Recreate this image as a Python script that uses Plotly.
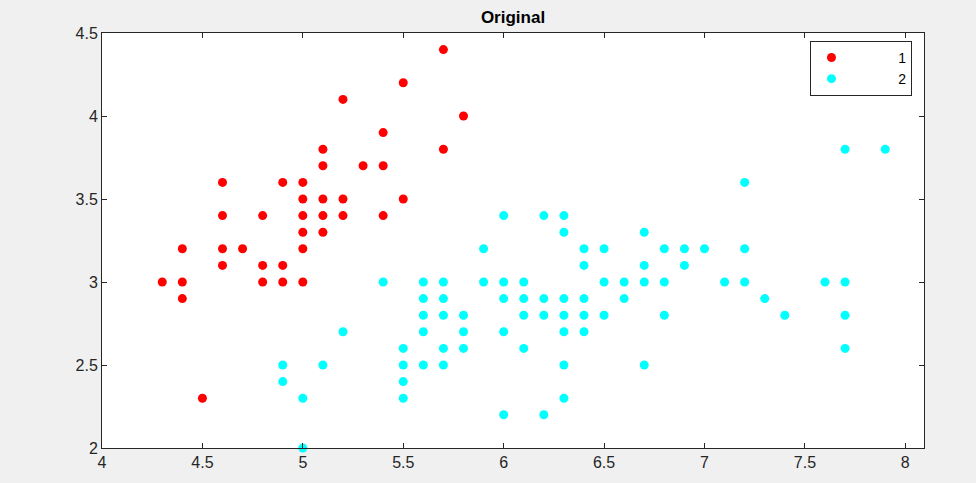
import plotly.graph_objects as go

# Cluster 1 (red)
c1_x = [5.7, 5.5, 5.2, 5.8, 5.4, 5.1, 5.7, 5.1, 5.3, 5.4, 4.6, 4.9, 5.0,
        5.0, 5.1, 5.2, 5.5, 4.6, 4.8, 5.0, 5.1, 5.2, 5.4, 5.0, 5.1,
        4.4, 4.6, 4.7, 5.0, 4.6, 4.8, 4.9, 4.3, 4.4, 4.8, 4.9, 5.0, 4.4, 4.5]
c1_y = [4.4, 4.2, 4.1, 4.0, 3.9, 3.8, 3.8, 3.7, 3.7, 3.7, 3.6, 3.6, 3.6,
        3.5, 3.5, 3.5, 3.5, 3.4, 3.4, 3.4, 3.4, 3.4, 3.4, 3.3, 3.3,
        3.2, 3.2, 3.2, 3.2, 3.1, 3.1, 3.1, 3.0, 3.0, 3.0, 3.0, 3.0, 2.9, 2.3]

# Cluster 2 (cyan)
c2_x = [7.7, 7.9, 7.2,
        6.0, 6.2, 6.3,
        6.3, 6.7,
        5.9, 6.4, 6.5, 6.8, 6.9, 7.0, 7.2,
        6.4, 6.7, 6.9,
        5.4, 5.6, 5.7, 5.9, 6.0, 6.1, 6.5, 6.6, 6.7, 6.8, 7.1, 7.2, 7.6, 7.7,
        5.6, 5.7, 6.0, 6.1, 6.2, 6.3, 6.4, 6.6, 7.3,
        5.6, 5.7, 5.8, 6.1, 6.2, 6.3, 6.4, 6.5, 6.8, 7.4, 7.7,
        5.2, 5.6, 5.8, 6.0, 6.3, 6.4,
        5.5, 5.7, 5.8, 6.1, 7.7,
        4.9, 5.1, 5.5, 5.6, 5.7, 6.3, 6.7,
        4.9, 5.5,
        5.0, 5.5, 6.3,
        6.0, 6.2,
        5.0]
c2_y = [3.8, 3.8, 3.6,
        3.4, 3.4, 3.4,
        3.3, 3.3,
        3.2, 3.2, 3.2, 3.2, 3.2, 3.2, 3.2,
        3.1, 3.1, 3.1,
        3.0, 3.0, 3.0, 3.0, 3.0, 3.0, 3.0, 3.0, 3.0, 3.0, 3.0, 3.0, 3.0, 3.0,
        2.9, 2.9, 2.9, 2.9, 2.9, 2.9, 2.9, 2.9, 2.9,
        2.8, 2.8, 2.8, 2.8, 2.8, 2.8, 2.8, 2.8, 2.8, 2.8, 2.8,
        2.7, 2.7, 2.7, 2.7, 2.7, 2.7,
        2.6, 2.6, 2.6, 2.6, 2.6,
        2.5, 2.5, 2.5, 2.5, 2.5, 2.5, 2.5,
        2.4, 2.4,
        2.3, 2.3, 2.3,
        2.2, 2.2,
        2.0]

x_ticks = [4, 4.5, 5, 5.5, 6, 6.5, 7, 7.5, 8]
x_tick_labels = ["4", "4.5", "5", "5.5", "6", "6.5", "7", "7.5", "8"]
y_ticks = [2, 2.5, 3, 3.5, 4, 4.5]
y_tick_labels = ["2", "2.5", "3", "3.5", "4", "4.5"]

NB = "\u00a0"
fig = go.Figure()
fig.add_trace(go.Scatter(x=c1_x, y=c1_y, mode="markers", name=NB * 12 + "1",
                         marker=dict(color="#ff0000", size=9, line=dict(width=0)),
                         cliponaxis=False))
fig.add_trace(go.Scatter(x=c2_x, y=c2_y, mode="markers", name=NB * 12 + "2",
                         marker=dict(color="#00ffff", size=9, line=dict(width=0)),
                         cliponaxis=False))

axis_common = dict(showgrid=False, zeroline=False, showline=True, mirror="ticks",
                   linecolor="#262626", linewidth=1, ticks="inside", ticklen=5,
                   tickcolor="#262626",
                   tickfont=dict(family="Liberation Sans, Arial", size=16, color="#262626"))

fig.update_layout(
    width=976, height=483,
    paper_bgcolor="#f0f0f0", plot_bgcolor="#ffffff",
    margin=dict(l=102, r=52, t=33, b=33),
    title=dict(text="<b>Original</b>", x=0.5, xref="paper", xanchor="center",
               y=1 - 17 / 483, yanchor="middle",
               font=dict(family="Liberation Sans, Arial", size=17, color="#000000")),
    xaxis=dict(range=[4, 8.093], tickvals=x_ticks, ticktext=x_tick_labels, **axis_common),
    yaxis=dict(range=[2, 4.5], tickvals=y_ticks, ticktext=y_tick_labels, **axis_common),
    legend=dict(x=0.986, y=0.981, xanchor="right", yanchor="top",
                bgcolor="#ffffff", bordercolor="#262626", borderwidth=1,
                font=dict(family="Liberation Sans, Arial", size=14, color="#000000"),
                itemsizing="trace", tracegroupgap=0),
    showlegend=True,
)

fig.write_html("out.html", config={"displayModeBar": False},
               post_script="document.body.style.margin='0';")
